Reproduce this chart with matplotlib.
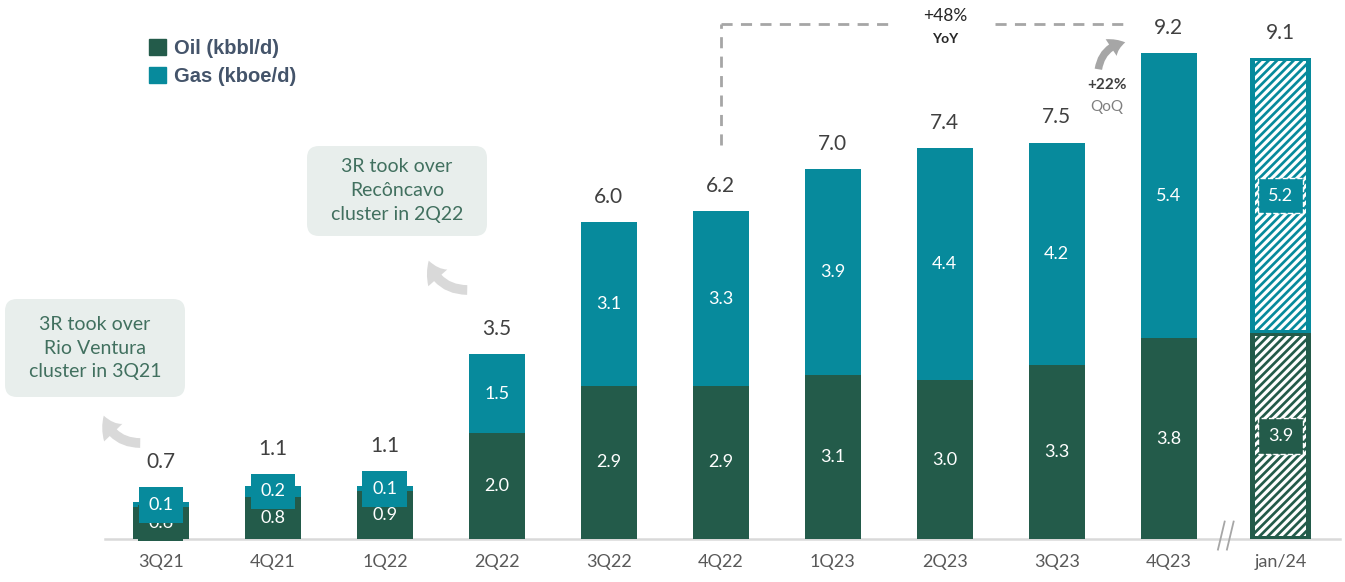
import matplotlib.pyplot as plt
from matplotlib.patches import FancyBboxPatch, FancyArrowPatch, Patch

quarters = ['3Q21', '4Q21', '1Q22', '2Q22', '3Q22', '4Q22', '1Q23', '2Q23', '3Q23', '4Q23', 'jan/24']
oil = [0.6, 0.8, 0.9, 2.0, 2.9, 2.9, 3.1, 3.0, 3.3, 3.8, 3.9]
gas = [0.1, 0.2, 0.1, 1.5, 3.1, 3.3, 3.9, 4.4, 4.2, 5.4, 5.2]
totals = [0.7, 1.1, 1.1, 3.5, 6.0, 6.2, 7.0, 7.4, 7.5, 9.2, 9.1]

OIL_C = '#235B4A'
GAS_C = '#078A9C'
W, H = 1345, 582

plt.rcParams['font.family'] = ['Lato', 'DejaVu Sans']
plt.rcParams['hatch.linewidth'] = 2.3

fig = plt.figure(figsize=(W / 100, H / 100), dpi=100)
ax = fig.add_axes([105 / W, 43 / H, 1235 / W, 539 / H])
ax.set_xlim(-0.5, 10.53)
ax.set_ylim(0, 10.2)
for s in ax.spines.values():
    s.set_visible(False)
ax.set_yticks([])
x = list(range(len(quarters)))
ax.set_xticks(x, quarters)
ax.tick_params(axis='x', length=0, pad=11, labelsize=13, labelcolor='#595959')
ax.axhline(0, color='#D9D9D9', lw=1.8, zorder=1, clip_on=False)

last = len(quarters) - 1
for i in x:
    o, g = oil[i], gas[i]
    if i < last:
        ax.bar(i, o, width=0.5, color=OIL_C, zorder=2)
        ax.bar(i, g, width=0.5, bottom=o, color=GAS_C, zorder=2)
        box_ls = '-'
        box_ec = 'none'
    else:
        # estimate bar: solid frame with white diagonal stripes inside
        for bottom, h, c in [(0, o, OIL_C), (o, g, GAS_C)]:
            ax.bar(i, h, width=0.55, bottom=bottom, color=c, zorder=2)
            ax.bar(i, h - 0.1, width=0.45, bottom=bottom + 0.05, facecolor='none',
                   edgecolor='white', hatch='////', lw=0, zorder=3)
        box_ls = '--'
        box_ec = 'white'
    for val, yc, c, z in [(o, o / 2, OIL_C, 5), (g, o + g / 2, GAS_C, 6)]:
        ax.text(i, yc, f'{val:.1f}', ha='center', va='center', fontsize=13,
                color='white', zorder=z,
                bbox=dict(boxstyle='square,pad=0.55', fc=c, ec=box_ec, ls=box_ls, lw=1))
    top = max(o + g, o + g / 2 + 0.33)
    ax.annotate(f'{totals[i]:.1f}', (i, top), xytext=(0, 11), textcoords='offset points',
                ha='center', va='bottom', fontsize=15, color='#404040', zorder=6)

# axis break between the quarters and the monthly figure
for dx in (0, 0.08):
    ax.plot([9.44 + dx, 9.50 + dx], [-0.2, 0.33], color='#A6A6A6', lw=1.3, clip_on=False)

# year-on-year bracket from 4Q22 to 4Q23
dash = dict(color='#A6A6A6', lw=2, ls=(0, (4, 3)), clip_on=False)
ax.plot([5, 5], [7.45, 9.75], **dash)
ax.plot([5, 6.55], [9.75, 9.75], **dash)
ax.plot([7.45, 8.63], [9.75, 9.75], **dash)
ax.text(7, 9.9, '+48%', ha='center', va='center', fontsize=12.5, color='#262626')
ax.text(7, 9.47, 'YoY', ha='center', va='center', fontsize=10, fontweight='bold', color='#262626')

# quarter-on-quarter callout
ax.text(8.45, 8.6, '+22%', ha='center', va='center', fontsize=11, fontweight='bold', color='#404040')
ax.text(8.45, 8.18, 'QoQ', ha='center', va='center', fontsize=11, color='#7F7F7F')


def px(xp, yp):
    return xp / W, 1 - yp / H


fig.patches.append(FancyArrowPatch(px(1098, 72), px(1128, 42), transform=fig.transFigure,
                                   connectionstyle='arc3,rad=-0.4',
                                   arrowstyle='simple,head_width=1.2,head_length=0.9,tail_width=0.45',
                                   mutation_scale=12, color='#A6A6A6', lw=0))

# acquisition notes
notes = [
    ('3R took over\nRio Ventura\ncluster in 3Q21', (5, 299, 185, 397), (143, 443), (103, 413)),
    ('3R took over\nRecôncavo\ncluster in 2Q22', (307, 146, 487, 236), (470, 290), (428, 258)),
]
for txt, (x0, y0, x1, y1), tail, head in notes:
    fig.patches.append(FancyBboxPatch((x0 / 100, (H - y1) / 100), (x1 - x0) / 100, (y1 - y0) / 100,
                                      boxstyle='round,pad=0,rounding_size=0.12',
                                      transform=fig.dpi_scale_trans, fc='#E8EEEC', ec='none'))
    fig.text(*px((x0 + x1) / 2, (y0 + y1) / 2), txt, ha='center', va='center', fontsize=14,
             color='#41705F', linespacing=1.5)
    fig.patches.append(FancyArrowPatch(px(*tail), px(*head), transform=fig.transFigure,
                                       connectionstyle='arc3,rad=-0.4',
                                       arrowstyle='simple,head_width=1.3,head_length=1.0,tail_width=0.5',
                                       mutation_scale=14, color='#D9D9D9', lw=0))

handles = [Patch(color=OIL_C, label='Oil (kbbl/d)'), Patch(color=GAS_C, label='Gas (kboe/d)')]
leg = fig.legend(handles=handles, loc='upper left', bbox_to_anchor=px(139, 29), frameon=False,
                 borderpad=0, handlelength=0.85, handleheight=0.85, handletextpad=0.4,
                 labelspacing=0.45, prop=dict(family='Liberation Sans', weight='bold', size=14.5))
for t in leg.get_texts():
    t.set_color('#44546A')

fig.savefig('out.png', dpi=100)
